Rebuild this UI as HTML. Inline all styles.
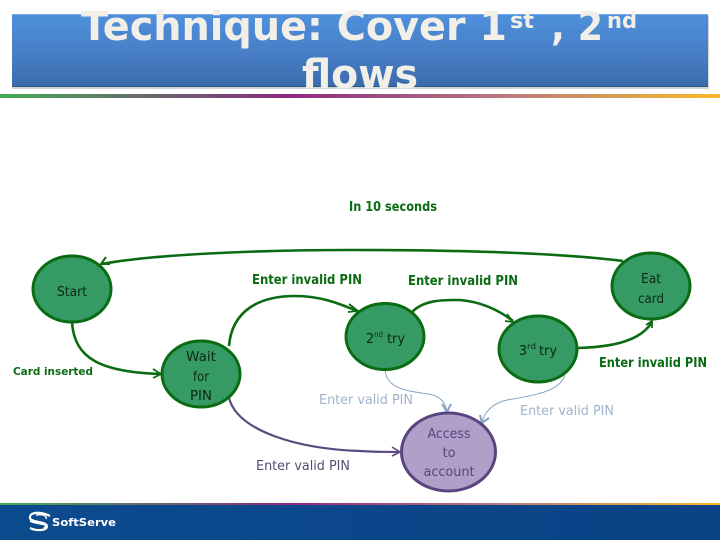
<!DOCTYPE html>
<html><head><meta charset="utf-8"><style>
html,body{margin:0;padding:0;width:720px;height:540px;overflow:hidden;background:#fff}
svg{display:block}
text{font-family:"DejaVu Sans",sans-serif}
</style></head><body>
<svg width="720" height="540" viewBox="0 0 720 540" xmlns="http://www.w3.org/2000/svg">
<defs>
<linearGradient id="hd" x1="0" y1="0" x2="0" y2="1"><stop offset="0" stop-color="#4f90dc"/><stop offset=".5" stop-color="#4880c8"/><stop offset="1" stop-color="#3a6bab"/></linearGradient>
<linearGradient id="ln" x1="0" y1="0" x2="1" y2="0"><stop offset="0" stop-color="#45ab55"/><stop offset="0.4" stop-color="#8b2a82"/><stop offset="0.7" stop-color="#b87a80"/><stop offset="1" stop-color="#f5bb28"/></linearGradient>
<linearGradient id="ft" x1="0" y1="0" x2="1" y2="0"><stop offset="0" stop-color="#0c4a8e"/><stop offset="1" stop-color="#0a4386"/></linearGradient>
</defs>
<rect x="12" y="16" width="697" height="73" fill="#b4b8be" opacity=".6"/>
<rect x="12" y="14" width="696" height="73" fill="url(#hd)"/>
<rect x="12" y="14" width="696" height="1" fill="#6fa8e6"/>
<rect x="12" y="86" width="696" height="1" fill="#2f5580"/>
<g fill="#f1efe8" font-weight="700" font-size="40">
<text x="81" y="40" textLength="426" lengthAdjust="spacingAndGlyphs">Technique: Cover 1</text>
<text x="510" y="28" font-size="22" textLength="24" lengthAdjust="spacingAndGlyphs">st</text>
<text x="551" y="40" textLength="52" lengthAdjust="spacingAndGlyphs">, 2</text>
<text x="607" y="28" font-size="22" textLength="30" lengthAdjust="spacingAndGlyphs">nd</text>
<text x="302" y="88" textLength="116" lengthAdjust="spacingAndGlyphs">flows</text>
</g>
<rect x="0" y="94" width="720" height="4" fill="url(#ln)"/>
<rect x="0" y="505" width="720" height="35" fill="url(#ft)"/>
<rect x="0" y="503" width="720" height="2" fill="url(#ln)"/>
<g fill="none" stroke="#fff" stroke-width="2.2">
<path d="M50 516 C40 511 29 512 30 518 C31 523 46 521 47 526 C47 531 36 531 30 528"/>
<path d="M36 515 C44 514 47 516 46 519 M30 521 C36 525 50 523 44 528" stroke-width="1.4"/>
</g>
<text x="52" y="526" fill="#fff" font-size="11" font-weight="700" textLength="64" lengthAdjust="spacingAndGlyphs">SoftServe</text>

<g fill="none" stroke="#0a6b12" stroke-width="2.6">
<path d="M72 322 C74 358 100 372 160 374"/>
<path d="M153 369 L161 374 L153 378" stroke-width="1.8"/>
<path d="M229 346 C232 310 260 296 295 296 C320 296 338 303 357 311"/>
<path d="M349 304 L358 311 L348 312" stroke-width="1.8"/>
<path d="M412 312 C425 299 445 300 460 300 C482 302 500 311 513 321"/>
<path d="M507 314 L513 322 L505 321" stroke-width="1.8"/>
<path d="M578 348 C610 347 640 342 652 322"/>
<path d="M646 325 L652 321 L652 328" stroke-width="1.8"/>
<path d="M623 261 C560 253 470 250 350 250 C250 250 150 255 102 264"/>
<path d="M106 257 L101 264 L110 264" stroke-width="2"/>
</g>
<g fill="none" stroke="#5b4a80" stroke-width="2.2">
<path d="M229 398 C238 432 300 449 360 451 C375 452 390 452 400 452"/>
<path d="M392 447 L400 452 L392 456" stroke-width="1.6"/>
</g>
<g fill="none" stroke="#85a3c4" stroke-width="1">
<path d="M385 370 C387 392 415 391 433 395 C442 398 446 404 447 412"/>
<path d="M565 373 C563 392 530 396 507 400 C493 403 484 412 482 423"/>
</g>
<g fill="none" stroke="#85a3c4" stroke-width="2">
<path d="M442 404 L447 412 L451 404"/>
<path d="M480 415 L482 423 L489 418"/>
</g>

<g fill="#359a63" stroke="#0a6b12" stroke-width="3">
<ellipse cx="72" cy="289" rx="39" ry="33"/>
<ellipse cx="201" cy="374" rx="39" ry="33"/>
<ellipse cx="385" cy="336.5" rx="39" ry="33"/>
<ellipse cx="538" cy="349" rx="39" ry="33"/>
<ellipse cx="651" cy="286" rx="39" ry="33"/>
</g>
<ellipse cx="448.5" cy="452" rx="47" ry="39" fill="#b09fc8" stroke="#5a4480" stroke-width="3"/>

<g fill="#0b2a14" font-size="13.5" text-anchor="middle">
<text x="72" y="296" textLength="30" lengthAdjust="spacingAndGlyphs">Start</text>
<text x="201" y="361" textLength="30" lengthAdjust="spacingAndGlyphs">Wait</text>
<text x="201" y="381" textLength="16" lengthAdjust="spacingAndGlyphs">for</text>
<text x="201" y="400" textLength="22" lengthAdjust="spacingAndGlyphs">PIN</text>
<text x="651" y="283" textLength="20" lengthAdjust="spacingAndGlyphs">Eat</text>
<text x="651" y="303" textLength="26" lengthAdjust="spacingAndGlyphs">card</text>
</g>
<g fill="#0b2a14" font-size="13.5">
<text x="366" y="343" textLength="8" lengthAdjust="spacingAndGlyphs">2</text><text x="374" y="337" font-size="8" textLength="9" lengthAdjust="spacingAndGlyphs">nd</text><text x="387" y="343" textLength="18" lengthAdjust="spacingAndGlyphs">try</text>
<text x="519" y="355" textLength="8" lengthAdjust="spacingAndGlyphs">3</text><text x="527" y="349" font-size="8" textLength="9" lengthAdjust="spacingAndGlyphs">rd</text><text x="539" y="355" textLength="18" lengthAdjust="spacingAndGlyphs">try</text>
</g>
<g fill="#5a4480" font-size="13.5" text-anchor="middle">
<text x="449" y="438" textLength="43" lengthAdjust="spacingAndGlyphs">Access</text>
<text x="449" y="457" textLength="13" lengthAdjust="spacingAndGlyphs">to</text>
<text x="449" y="476" textLength="51" lengthAdjust="spacingAndGlyphs">account</text>
</g>
<g fill="#0a6b12" font-weight="700" font-size="13">
<text x="349" y="211" textLength="88" lengthAdjust="spacingAndGlyphs">In 10 seconds</text>
<text x="252" y="284" textLength="110" lengthAdjust="spacingAndGlyphs">Enter invalid PIN</text>
<text x="408" y="285" textLength="110" lengthAdjust="spacingAndGlyphs">Enter invalid PIN</text>
<text x="599" y="367" textLength="108" lengthAdjust="spacingAndGlyphs">Enter invalid PIN</text>
<text x="13" y="375" font-size="11" textLength="80" lengthAdjust="spacingAndGlyphs">Card inserted</text>
</g>
<g fill="#9fb3cb" font-size="13">
<text x="319" y="404" textLength="94" lengthAdjust="spacingAndGlyphs">Enter valid PIN</text>
<text x="520" y="415" textLength="94" lengthAdjust="spacingAndGlyphs">Enter valid PIN</text>
</g>
<text x="256" y="470" fill="#5a4c70" font-size="13" textLength="94" lengthAdjust="spacingAndGlyphs">Enter valid PIN</text>
</svg>
</body></html>
